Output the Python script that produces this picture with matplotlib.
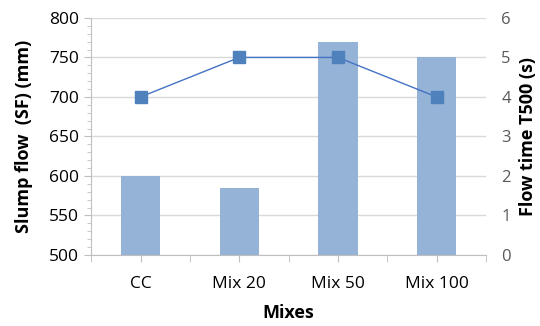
import matplotlib
matplotlib.use("Agg")
import matplotlib.pyplot as plt
from matplotlib.ticker import MultipleLocator, FixedLocator
import numpy as np

plt.rcParams['font.family'] = ['Open Sans', 'DejaVu Sans']

mixes = ["CC", "Mix 20", "Mix 50", "Mix 100"]
slump_flow = [600, 585, 770, 750]
t500 = [4, 5, 5, 4]

x = np.arange(len(mixes))

fig = plt.figure(figsize=(5.4, 3.26), dpi=100)
ax = fig.add_axes([0.169, 0.218, 0.731, 0.727])

ax.bar(x, np.array(slump_flow) - 500, bottom=500, width=0.4, color="#95B3D7", zorder=2)
ax.set_ylim(500, 800)
ax.set_xlim(-0.5, len(mixes) - 0.5)
ax.yaxis.set_major_locator(MultipleLocator(50))
ax.yaxis.set_minor_locator(MultipleLocator(10))
ax.grid(axis="y", color="#D9D9D9", linewidth=1, zorder=0)
ax.set_axisbelow(True)

ax.set_xticks(x)
ax.set_xticklabels(mixes)
ax.xaxis.set_minor_locator(FixedLocator(np.arange(-0.5, len(mixes), 1.0)))
ax.tick_params(axis="x", which="both", length=5, color="#BFBFBF", labelsize=12.5, pad=10)
ax.tick_params(axis="y", which="major", length=5, color="#BFBFBF", labelsize=12.5, pad=4)
ax.tick_params(axis="y", which="minor", length=3, color="#BFBFBF")

for side in ["top", "right"]:
    ax.spines[side].set_visible(False)
ax.spines["left"].set_color("#BFBFBF")
ax.spines["bottom"].set_color("#BFBFBF")

ax.set_xlabel("Mixes", fontsize=13, fontweight="bold", labelpad=9)
ax.set_ylabel("Slump flow  (SF) (mm)", fontsize=13, fontweight="bold", labelpad=11)

ax2 = ax.twinx()
ax2.plot(x, t500, color="#4472C4", linewidth=1.0, marker="s", markersize=8.5,
         markerfacecolor="#4F81BD", markeredgecolor="#4F81BD", zorder=3)
ax2.set_ylim(0, 6)
ax2.yaxis.set_major_locator(MultipleLocator(1))
ax2.tick_params(axis="y", length=0, labelsize=12, labelcolor="#595959", pad=11)
for side in ["top", "right", "left", "bottom"]:
    ax2.spines[side].set_visible(False)
ax2.set_ylabel("Flow time T500 (s)", fontsize=13, fontweight="bold", labelpad=6)

fig.savefig("out.png", dpi=100)
